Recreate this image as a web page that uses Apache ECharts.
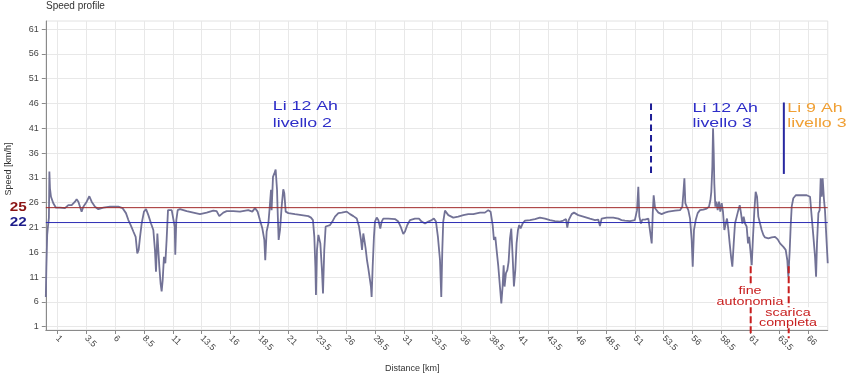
<!DOCTYPE html>
<html><head><meta charset="utf-8">
<script src="https://cdn.jsdelivr.net/npm/echarts@6/dist/echarts.min.js"></script>
<style>html,body{margin:0;padding:0;background:#fff}#c{width:850px;height:388px}</style>
</head><body><div id="c"></div>
<script>
// ---- data ----
const distanceKm = [0,0.05,0.12,0.2,0.27,0.31,0.36,0.45,0.65,0.88,1.23,1.66,1.95,2.24,2.38,2.53,2.67,2.82,2.96,3.1,3.25,3.54,3.77,3.97,4.26,4.55,4.98,5.56,6.28,6.65,6.94,7.15,7.35,7.58,7.78,7.92,8.04,8.16,8.3,8.5,8.68,8.88,9.11,9.31,9.45,9.54,9.66,9.77,9.83,9.94,10.03,10.12,10.23,10.35,10.46,10.58,10.75,10.9,11.04,11.16,11.21,11.3,11.42,11.62,12.2,12.77,13.35,13.93,14.5,14.79,15.02,15.37,15.66,16.24,16.81,
16.96,17.53,17.68,17.88,18.11,18.34,18.54,18.75,18.92,19.0,19.12,19.27,19.38,19.5,19.55,19.67,19.79,19.9,20.02,20.07,20.16,20.28,20.42,20.56,20.65,20.77,21.0,21.57,22.15,22.73,22.96,23.13,23.25,23.34,23.39,23.48,23.6,23.77,23.91,24.0,24.11,24.23,24.4,24.61,24.81,25.04,25.33,25.62,26.05,26.34,26.63,26.92,27.12,27.29,27.38,27.49,27.58,27.69,27.81,27.92,28.04,28.15,28.21,28.3,28.41,28.5,28.65,28.79,28.96,29.08,29.22,29.66,30.23,30.52,30.72,30.95,31.1,31.3,31.53,31.96,32.31,32.54,32.83,33.12,33.41,
33.6,33.78,33.95,34.13,34.24,34.33,34.41,34.56,34.85,35.28,35.71,36.15,36.58,37.01,37.59,38.02,38.31,38.51,38.69,38.8,38.92,39.03,39.18,39.32,39.44,39.55,39.64,39.72,39.84,39.96,40.07,40.19,40.3,40.42,40.53,40.65,40.76,40.88,40.99,41.11,41.28,41.49,41.92,42.35,42.78,43.22,43.65,44.08,44.52,44.8,45.04,45.15,45.27,45.53,45.73,46.1,46.54,47.11,47.55,47.83,47.98,48.12,48.56,49.13,49.57,49.85,50.14,50.58,
51.0,51.19,51.3,51.39,51.53,51.65,51.88,52.17,52.31,52.46,52.55,52.63,52.75,52.89,53.04,53.32,53.61,53.9,54.19,54.48,54.62,54.91,55.11,55.2,55.29,55.37,55.49,55.63,55.78,55.92,56.01,56.12,56.27,56.44,56.64,56.93,57.22,57.42,57.54,57.62,57.71,57.77,57.83,57.88,57.97,58.06,58.17,58.29,58.4,58.52,58.63,58.75,58.87,58.98,59.1,59.21,59.33,59.44,59.56,59.67,59.82,59.96,60.08,60.19,60.31,60.42,60.54,60.68,60.8,60.89,61.0,61.12,61.23,61.35,61.46,61.58,61.69,61.84,61.98,62.13,62.27,62.56,62.85,63.14,63.37,63.57,63.86,64.06,64.2,64.29,64.41,64.49,64.58,64.72,64.93,65.16,65.45,65.59,65.88,66.17,66.31,66.46,66.6,66.69,66.77,66.89,67.0,67.09,67.18,67.26,67.38,67.46,67.61,67.7];
const speedKmh = [7.0,13,19.5,21.5,23,32.3,28.9,27.2,25.9,25.0,25.0,24.9,25.5,25.5,25.7,26.2,26.7,26.2,25.9,24.2,25.2,26.2,27.3,26.2,25.2,24.7,25.0,25.2,25.2,24.9,23.9,22.5,21.5,20.2,19.1,15.8,16.5,19.1,21.8,24.2,24.7,23.5,21.8,20.5,16.5,12.1,19.8,20.2,13.1,9.7,8.1,10.4,15.1,13.8,18.5,24.5,24.2,24.5,24.2,21.2,15.5,22.5,24.5,24.7,24.3,24.0,23.7,24.0,24.4,24.3,23.3,24.0,24.3,24.3,24.2,
24.2,24.5,24.9,24.2,24.9,24.2,22.5,20.8,18.5,14.4,20.2,21.8,24.9,28.6,24.5,31.2,31.9,32.7,28.6,24.5,18.5,20.5,25.2,28.7,27.9,24.2,23.9,23.7,23.5,23.3,23.0,22.5,19.1,13.1,7.4,16.5,19.5,17.8,12.4,7.7,16.5,21.2,20.8,21.5,22.2,23.2,23.9,24.0,24.2,23.7,23.3,22.8,21.2,18.5,16.5,19.8,18.5,16.8,14.4,12.8,13.1,9.1,7.0,13.1,19.1,22.2,23.0,22.5,20.8,22.2,22.8,22.8,22.7,22.2,21.2,19.7,20.2,21.5,22.5,22.8,22.8,22.2,21.8,22.2,22.5,
22.8,22.2,19.1,14.4,7.0,16.5,22.2,24.4,23.5,23.0,23.2,23.5,23.7,23.7,24.0,24.0,24.5,24.2,21.5,18.5,19.1,16.5,13.1,9.1,5.7,9.1,13.4,9.1,11.8,12.4,14.1,18.8,20.8,15.1,9.1,12.4,17.8,20.5,21.5,20.8,21.8,22.4,22.5,22.7,23.0,22.8,22.5,22.3,22.2,22.4,22.7,21.0,22.5,23.7,24.0,23.5,23.2,22.8,22.5,22.6,21.3,22.8,23.0,23.0,22.8,22.5,22.4,22.3,
22.5,24.5,29.2,23.2,21.8,22.6,22.6,22.8,22.5,17.8,23.9,27.5,24.9,24.5,24.0,23.7,24.0,24.2,24.3,24.4,24.0,24.5,25.2,27.9,30.9,25.9,25.2,24.5,22.8,18.5,13.1,20.5,22.5,23.9,24.5,24.6,24.8,25.2,26.5,28.2,33.3,41.0,36.0,29.9,25.2,26.2,24.5,26.2,24.2,25.9,24.2,20.5,21.8,22.8,20.5,17.8,15.1,13.1,17.8,21.8,23.2,24.5,25.5,23.9,21.8,23.2,21.8,21.2,17.8,19.1,16.5,13.4,19.1,24.5,28.2,27.2,23.2,21.8,20.5,19.5,19.0,18.8,19.0,19.1,18.6,17.8,17.1,16.5,14.4,11.1,16.5,21.2,25.2,26.9,27.5,27.5,27.5,27.9,27.5,27.2,23.2,19.1,15.1,11.1,17.8,23.9,24.5,30.9,27.2,30.9,26.5,24.5,17.8,13.8];

const xExtent = [0, 67.7];
const yExtent = [0.34, 62.63];
const xTicks = [1, 66, 2.5];   // first, last, step
const yTicks = [1, 61, 5];

const refLevels = [25, 22];
const refLabels = ['25', '22'];

const markerX = [52.4, 63.9, 61.03, 64.32];
const markerTop = [46.0, 46.2, 13.2, 13.2];
const markerBottom = [31.9, 31.8, -0.7, -1.3];

const noteTexts = ['Li 12 Ah','livello 2','Li 12 Ah','livello 3','Li 9 Ah','livello 3','fine','autonomia','scarica','completa'];
const noteX = [19.65,19.65,56.0,56.0,64.2,64.2,60.97,60.97,64.26,64.26];
const noteY = [45.35,42.0,45.0,42.0,45.0,42.0,8.26,6.04,3.82,1.8];

// ---- styles ----
const refColors = ['#a02828', '#2c2cb4'];
const refLabelColors = ['#8b1414', '#1b1b8a'];
const markerStyles = [
  {stroke:'#1e1e96', lineWidth:2, lineDash:[6.5,4]},
  {stroke:'#2828a0', lineWidth:2, lineDash:null},
  {stroke:'#c81e1e', lineWidth:2, lineDash:[7,3]},
  {stroke:'#c81e1e', lineWidth:2, lineDash:[7,3]}
];
const noteKinds = ['b','b','b','b','o','o','r','r','r','r'];
const FF = '"Liberation Sans", Arial, sans-serif';

const chart = echarts.init(document.getElementById('c'), null, {renderer:'canvas'});
const speedData = distanceKm.map((d, i) => [d, speedKmh[i]]);

const gridL = 45.8, pxPerKm = 11.55;
const gridTop = 21, gridBottom = 330;
const y61 = 29.1, y1 = 326.7;
const W = 850, H = 388;

const axisLabelStyle = {fontSize: 9, color: '#444', fontFamily: FF};

chart.setOption({
  animation: false,
  backgroundColor: '#fff',
  title: [
    {text: 'Speed profile', left: 46, top: 1, padding: 0,
     textStyle: {fontSize: 10, fontWeight: 'normal', color: '#333', fontFamily: FF}},
    {text: 'Distance [km]', left: 385, top: 364, padding: 0,
     textStyle: {fontSize: 9, fontWeight: 'normal', color: '#333', fontFamily: FF}}
  ],
  graphic: [{
    type: 'text', x: 9, y: 169, rotation: Math.PI / 2,
    style: {text: 'Speed [km/h]', font: '9px ' + FF, fill: '#333',
            align: 'center', verticalAlign: 'middle', textAlign: 'center', textVerticalAlign: 'middle'}
  }],
  grid: [
    {left: gridL, right: W - (gridL + xExtent[1] * pxPerKm), top: gridTop, bottom: H - gridBottom,
     show: true, borderColor: '#e2e2e2', borderWidth: 1},
    {left: gridL + xTicks[0] * pxPerKm, right: W - (gridL + xTicks[1] * pxPerKm), top: gridTop, bottom: H - gridBottom},
    {left: gridL, right: W - (gridL + xExtent[1] * pxPerKm), top: y61, bottom: H - y1}
  ],
  xAxis: [
    {gridIndex: 0, type: 'value', min: xExtent[0], max: xExtent[1],
     axisLine: {show: true, lineStyle: {color: '#8a8a8a'}}, axisTick: {show: false},
     axisLabel: {show: false}, splitLine: {show: false}},
    {gridIndex: 1, type: 'value', min: xTicks[0], max: xTicks[1], interval: xTicks[2],
     axisLine: {show: false}, axisTick: {show: true, length: 4, lineStyle: {color: '#8a8a8a'}},
     axisLabel: Object.assign({rotate: -45, margin: 7, showMinLabel: true, showMaxLabel: true}, axisLabelStyle),
     splitLine: {show: true, lineStyle: {color: '#e8e8e8'}}},
    {gridIndex: 2, type: 'value', min: 0, max: 1, show: false}
  ],
  yAxis: [
    {gridIndex: 0, type: 'value', min: yExtent[0], max: yExtent[1],
     axisLine: {show: true, lineStyle: {color: '#8a8a8a'}}, axisTick: {show: false},
     axisLabel: {show: false}, splitLine: {show: false}},
    {gridIndex: 1, type: 'value', min: 0, max: 1, show: false},
    {gridIndex: 2, type: 'value', min: yTicks[0], max: yTicks[1], interval: yTicks[2],
     axisLine: {show: false}, axisTick: {show: true, length: 4, lineStyle: {color: '#8a8a8a'}},
     axisLabel: Object.assign({margin: 7}, axisLabelStyle),
     splitLine: {show: true, lineStyle: {color: '#e8e8e8'}}}
  ],
  series: [
    {
      type: 'line', xAxisIndex: 0, yAxisIndex: 0, z: 2,
      data: speedData, showSymbol: false, symbol: 'none', sampling: null,
      lineStyle: {color: '#727296', width: 1.8}
    },
    {
      type: 'custom', xAxisIndex: 0, yAxisIndex: 0, z: 3, clip: false,
      data: refLevels.map(v => [v]),
      renderItem: function (params, api) {
        const i = params.dataIndex;
        const v = api.value(0);
        const a = api.coord([xExtent[0], v]);
        const b = api.coord([xExtent[1], v]);
        return {type: 'group', children: [
          {type: 'line', shape: {x1: a[0], y1: a[1], x2: b[0], y2: b[1]},
           style: {stroke: refColors[i], lineWidth: 1}},
          {type: 'text', x: a[0] - 19, y: a[1], scaleX: 1.22,
           style: {text: refLabels[i], fill: refLabelColors[i], font: 'bold 12.5px ' + FF,
                   align: 'right', verticalAlign: 'middle', textAlign: 'right', textVerticalAlign: 'middle'}}
        ]};
      }
    },
    {
      type: 'custom', xAxisIndex: 0, yAxisIndex: 0, z: 4, clip: false,
      data: markerX.map((x, i) => [x, markerTop[i], markerBottom[i]]),
      renderItem: function (params, api) {
        const i = params.dataIndex;
        const a = api.coord([api.value(0), api.value(1)]);
        const b = api.coord([api.value(0), api.value(2)]);
        const s = markerStyles[i];
        return {type: 'line', shape: {x1: a[0], y1: a[1], x2: b[0], y2: b[1]},
                style: {stroke: s.stroke, lineWidth: s.lineWidth, lineDash: s.lineDash}};
      }
    },
    {
      type: 'custom', xAxisIndex: 0, yAxisIndex: 0, z: 5, clip: false,
      data: noteX.map((x, i) => [x, noteY[i]]),
      renderItem: function (params, api) {
        const i = params.dataIndex;
        const p = api.coord([api.value(0), api.value(1)]);
        const k = noteKinds[i];
        if (k === 'r') {
          return {type: 'text', x: p[0], y: p[1], scaleX: 1.3,
                  style: {text: noteTexts[i], fill: '#c82020', font: '11px ' + FF,
                          backgroundColor: '#fff', padding: [0, 1],
                          align: 'center', verticalAlign: 'middle', textAlign: 'center', textVerticalAlign: 'middle'}};
        }
        return {type: 'text', x: p[0], y: p[1], scaleX: 1.48,
                style: {text: noteTexts[i], fill: k === 'o' ? '#f0a035' : '#2e2ec8', font: '12px ' + FF,
                        align: 'left', verticalAlign: 'middle', textAlign: 'left', textVerticalAlign: 'middle'}};
      }
    }
  ]
});
</script></body></html>
